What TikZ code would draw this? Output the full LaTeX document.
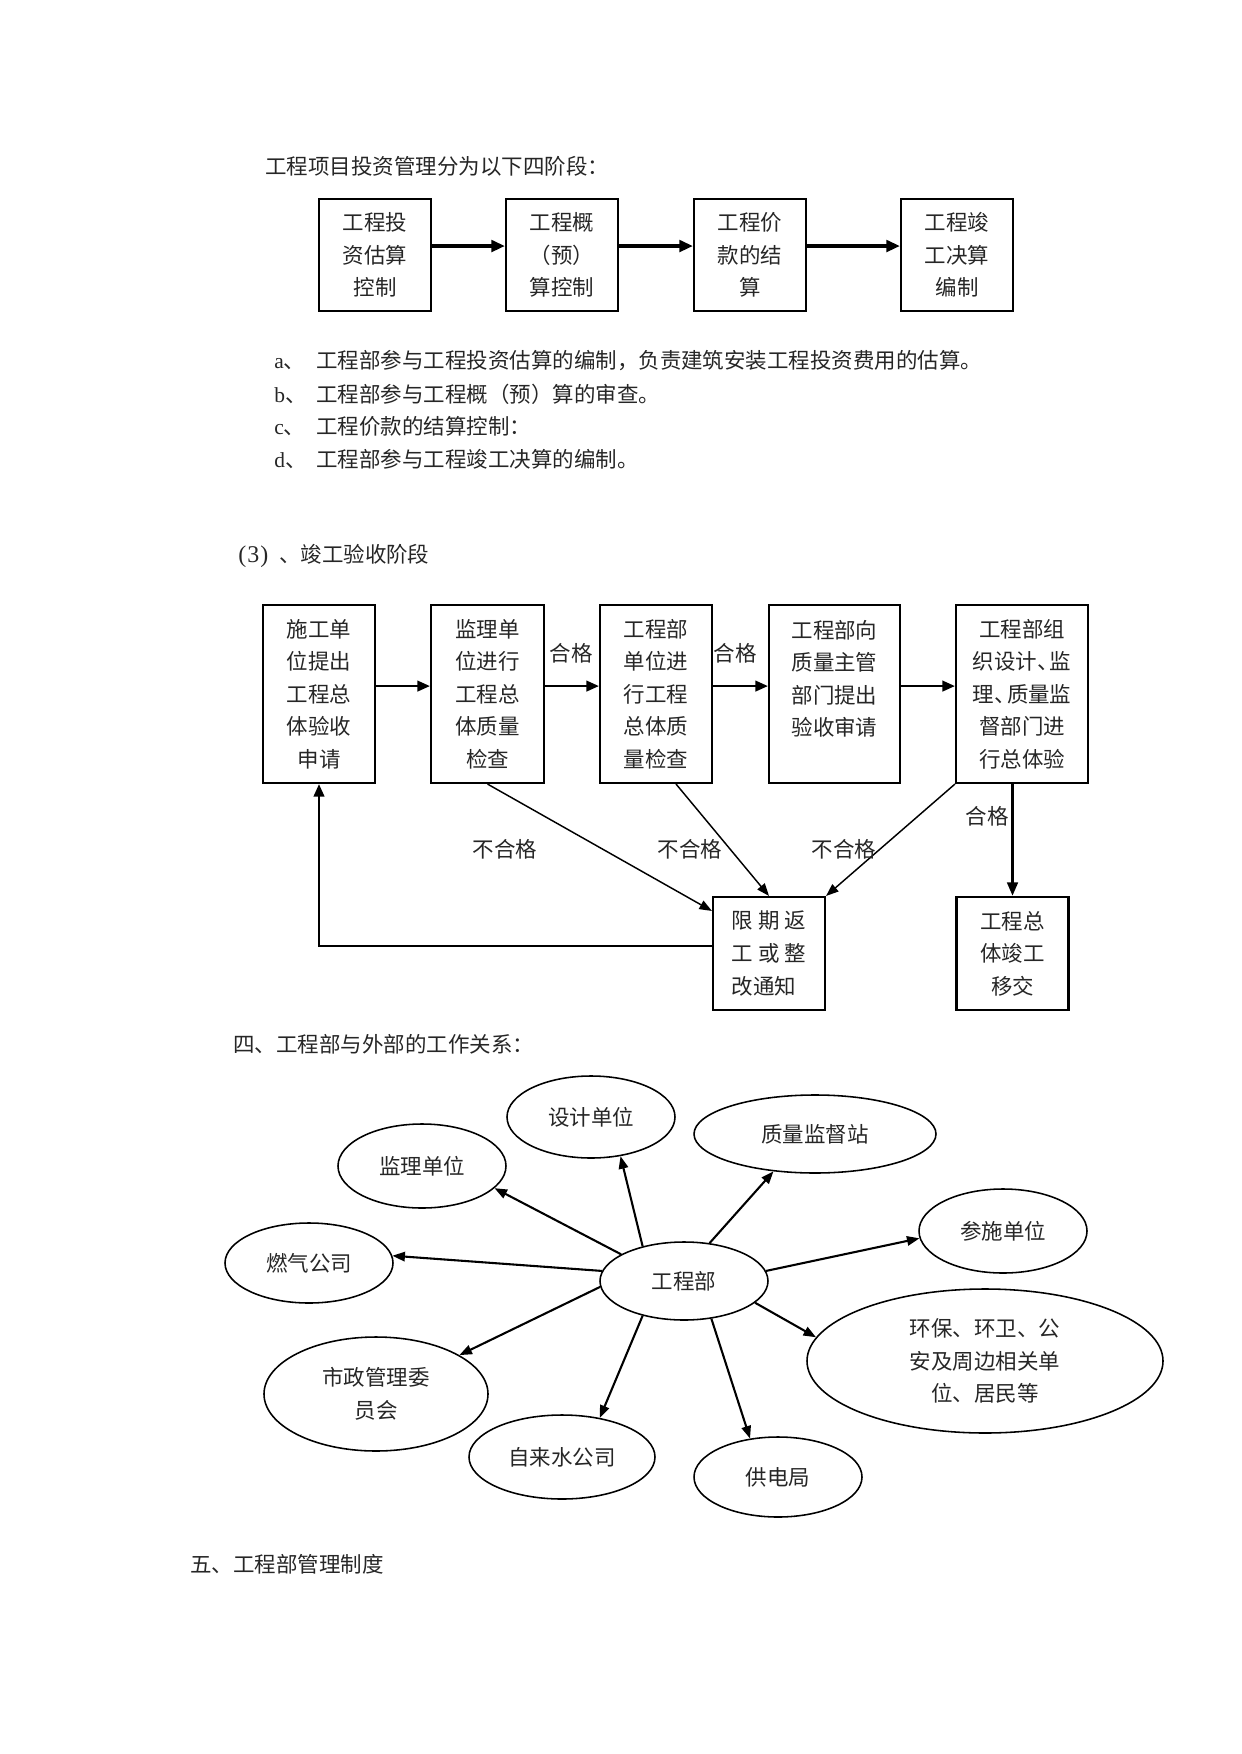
\documentclass[tikz,border=0pt]{standalone}
\usepackage{fontspec}
\setmainfont{Noto Sans CJK SC}
\newfontfamily\lat{Liberation Serif}
\usetikzlibrary{arrows.meta,shapes.geometric}
\begin{document}
\begin{tikzpicture}[x=0.4795pt,y=-0.4795pt,
  every node/.style={font=\fontsize{10.3pt}{15.6pt}\selectfont, text=black!85},
  tbox/.style={draw, line width=1pt, minimum width=112*0.4795pt, minimum height=112*0.4795pt, align=center, inner sep=0pt},
  fbox/.style={draw, line width=1pt, minimum width=#1*0.4795pt, minimum height=178*0.4795pt, align=center, inner sep=0pt},
  sbox/.style={draw, line width=1pt, minimum width=112*0.4795pt, minimum height=113*0.4795pt, inner sep=0pt},
  txt/.style={anchor=west, inner sep=0pt},
  lbl/.style={inner sep=0pt},
  ell/.style 2 args={ellipse, draw, line width=0.75pt, minimum width=#1*0.4795pt, minimum height=#2*0.4795pt, inner sep=0pt, align=center},
  tarr/.style={line width=1.8pt, -{Triangle[length=6.5pt,width=5.5pt]}},
  farr/.style={line width=1.2pt, -{Triangle[length=6pt,width=5pt]}},
  varr/.style={line width=1.5pt, -{Triangle[length=6.5pt,width=5pt]}},
  darr/.style={line width=0.7pt, -{Triangle[length=6pt,width=4.5pt]}},
  earr/.style={line width=1pt, -{Triangle[length=6pt,width=4.5pt]}}
]
\useasboundingbox (0,0) rectangle (1241,1754);

% ---------- part 1 ----------
\node[txt] (t1) at (265,166) {工程项目投资管理分为以下四阶段：};
\node[tbox] (T1) at (375,255) {工程投\\资估算\\控制};
\node[tbox] (T2) at (562,255) {工程概\\（预）\\算控制};
\node[tbox] (T3) at (750,255) {工程价\\款的结\\算};
\node[tbox] (T4) at (957,255) {工程竣\\工决算\\编制};
\draw[tarr] ([yshift=4.3pt]T1.east) -- ([yshift=4.3pt]T2.west);
\draw[tarr] ([yshift=4.3pt]T2.east) -- ([yshift=4.3pt]T3.west);
\draw[tarr] ([yshift=4.3pt]T3.east) -- ([yshift=4.3pt]T4.west);

\node[txt] (la) at (274,361) {\makebox[20.1pt][l]{{\lat a}、}工程部参与工程投资估算的编制，负责建筑安装工程投资费用的估算。};
\node[txt] (lb) at (274,394) {\makebox[20.1pt][l]{{\lat b}、}工程部参与工程概（预）算的审查。};
\node[txt] (lc) at (274,426) {\makebox[20.1pt][l]{{\lat c}、}工程价款的结算控制：};
\node[txt] (ld) at (274,459) {\makebox[20.1pt][l]{{\lat d}、}工程部参与工程竣工决算的编制。};

% ---------- part 2 ----------
\node[txt] (t2) at (238,556) {\makebox[19.5pt][l]{{\lat\fontsize{11.5pt}{12pt}\selectfont (\kern0.5pt3\kern0.5pt)}}、竣工验收阶段};
\node[fbox=112] (B1) at (319,694) {施工单\\位提出\\工程总\\体验收\\申请};
\node[fbox=113] (B2) at (487.5,694) {监理单\\位进行\\工程总\\体质量\\检查};
\node[fbox=112] (B3) at (656,694) {工程部\\单位进\\行工程\\总体质\\量检查};
\node[fbox=131] (B4) at (834.5,694) {工程部向\\质量主管\\部门提出\\验收审请\\~};
\node[fbox=132] (B5) at (1022,694) {工程部组\\织设计、\kern-0.4em监\\理、\kern-0.4em质量监\\督部门进\\行总体验};
\node[sbox, align=left] (B6) at (769,953.5) {限 期 返\\工 或 整\\改通知};
\node[sbox, align=center] (B7) at (1012.5,953.5) {工程总\\体竣工\\移交};

\draw[farr] ([yshift=3.8pt]B1.east) -- ([yshift=3.8pt]B2.west);
\draw[farr] ([yshift=3.8pt]B2.east) -- ([yshift=3.8pt]B3.west);
\draw[farr] ([yshift=3.8pt]B3.east) -- ([yshift=3.8pt]B4.west);
\draw[farr] ([yshift=3.8pt]B4.east) -- ([yshift=3.8pt]B5.west);
\node[lbl] (q1) at (571,653) {合格};
\node[lbl] (q2) at (735,653) {合格};

\draw[darr] (B2.south) -- ([yshift=-7.2pt]B6.north west);
\draw[darr] ([xshift=9.6pt]B3.south) -- (B6.north);
\draw[darr] (B5.south west) -- (B6.north east);
\draw[varr] (B7.north |- B5.south) -- (B7.north);
\draw[farr] ([yshift=3.6pt]B6.west) -| (B1.south);
\node[lbl] (q3) at (987,816) {合格};
\node[lbl] (n1) at (505,849) {不合格};
\node[lbl] (n2) at (690,849) {不合格};
\node[lbl] (n3) at (844,849) {不合格};

% ---------- part 3 ----------
\node[txt] (t3) at (233,1044) {四、工程部与外部的工作关系：};
\node[ell={168}{78}] (gcb) at (684,1281) {工程部};
\node[ell={168}{82}] (sj) at (591,1117) {设计单位};
\node[ell={242}{78}] (zl) at (815,1134) {质量监督站};
\node[ell={168}{84}] (jl) at (422,1166) {监理单位};
\node[ell={168}{84}] (cs) at (1003,1231) {参施单位};
\node[ell={168}{80}] (rq) at (309,1263) {燃气公司};
\node[ell={356}{144}] (hb) at (985,1361) {环保、环卫、公\\安及周边相关单\\位、居民等};
\node[ell={224}{114}] (sz) at (376,1394) {市政管理委\\员会};
\node[ell={186}{84}] (zls) at (562,1457) {自来水公司};
\node[ell={168}{80}] (gd) at (778,1477) {供电局};

\draw[earr] (gcb.157) -- (jl.-17);
\draw[earr] (gcb.140) -- (sj.-53);
\draw[earr] (gcb.56) -- (zl.222);
\draw[earr] (gcb.7) -- (cs.185);
\draw[earr] (gcb.173) -- (rq.5);
\draw[earr] (gcb.184) -- (sz.25);
\draw[earr] (gcb.220) -- (zls.46);
\draw[earr] (gcb.-54) -- (gd.126);
\draw[earr] (gcb.-17) -- (hb.172);

\node[txt] (t4) at (190,1564) {五、工程部管理制度};
\end{tikzpicture}
\end{document}
